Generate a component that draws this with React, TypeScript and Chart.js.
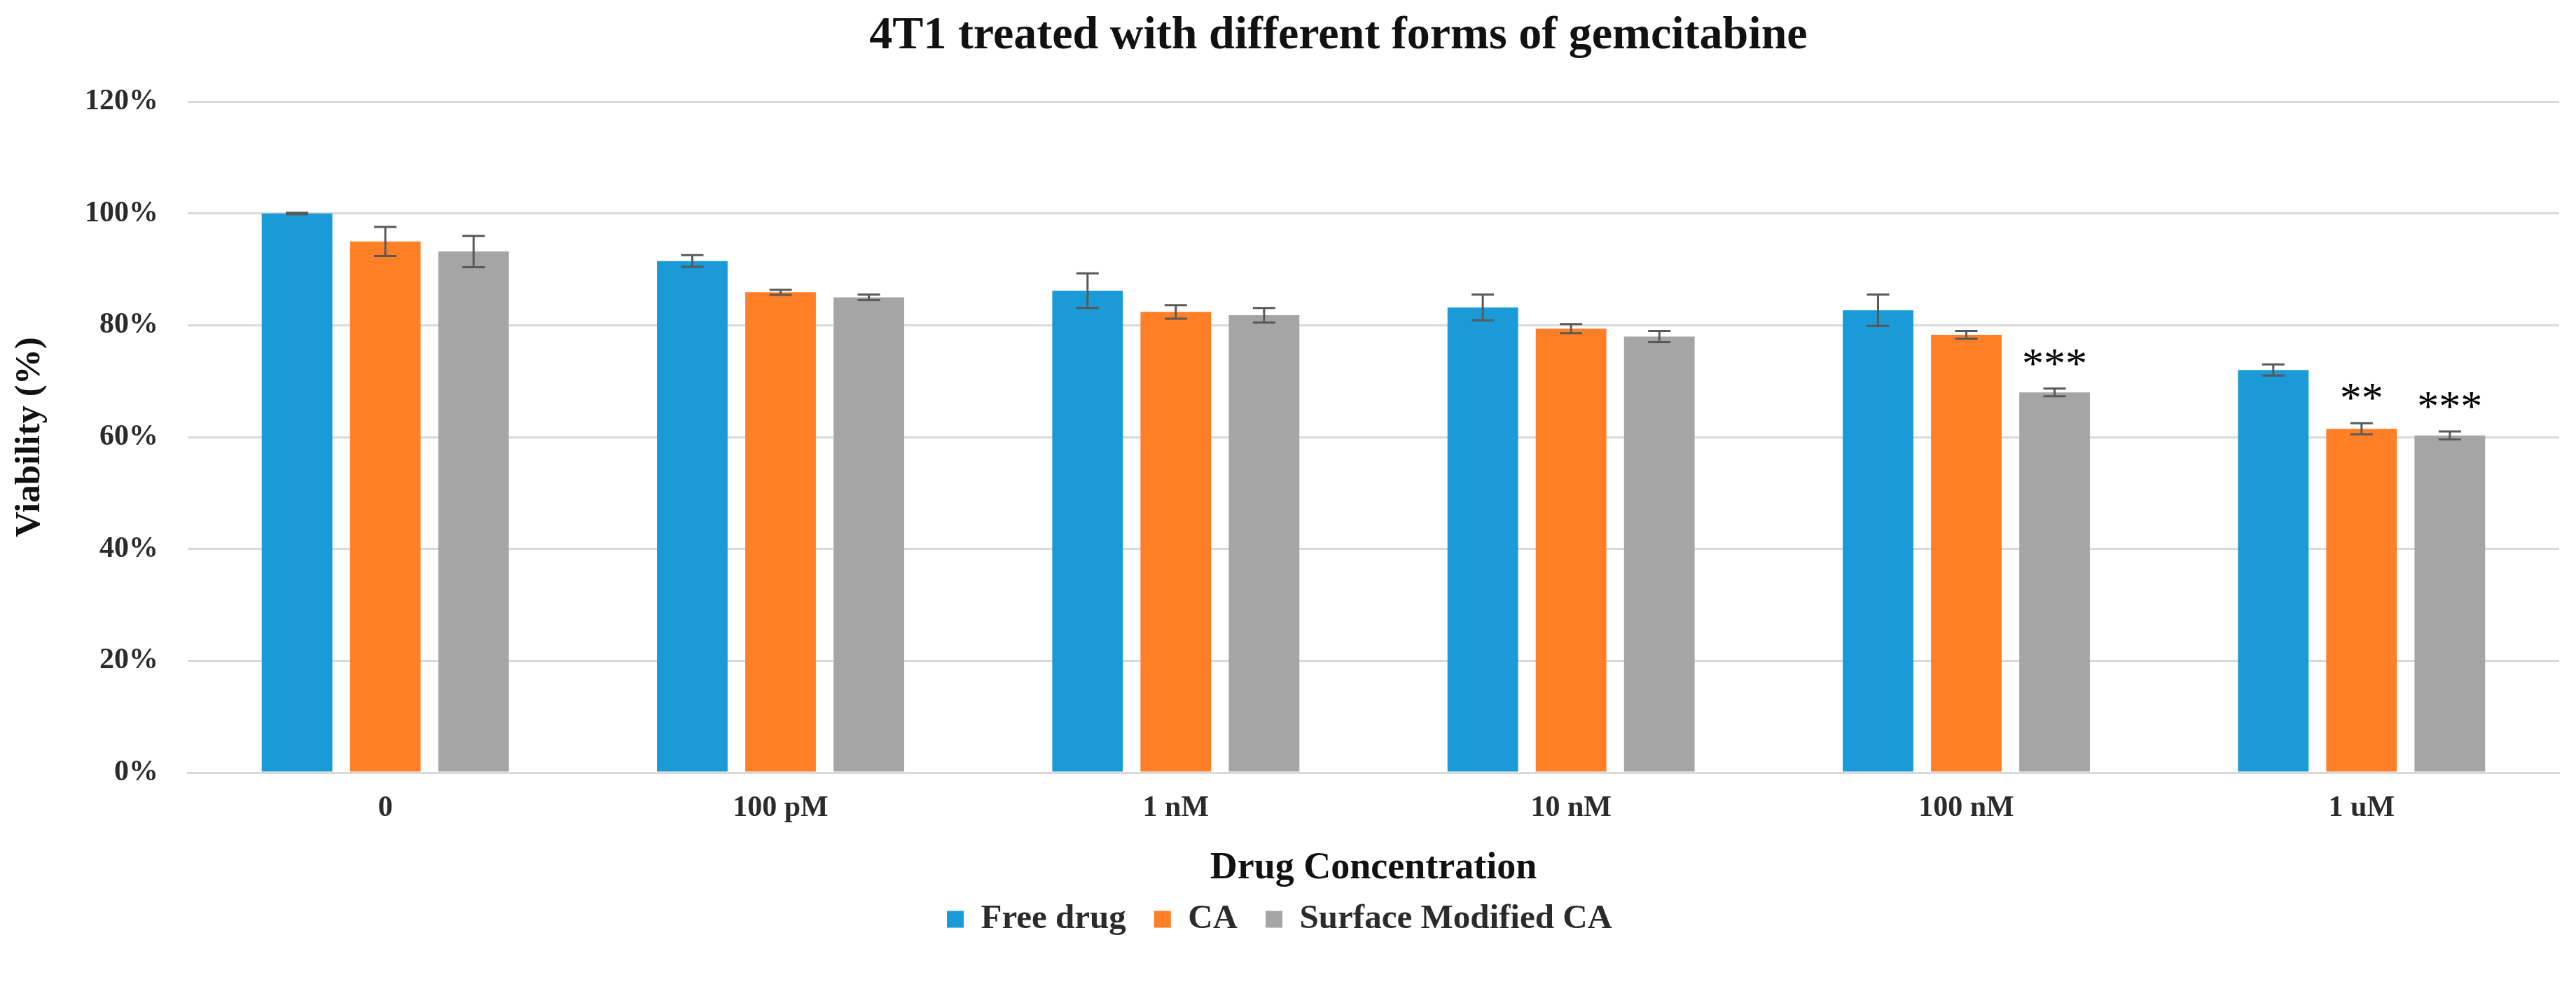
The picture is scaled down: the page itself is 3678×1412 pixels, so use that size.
import React, { useEffect, useRef } from "react";
import { Chart, registerables } from "chart.js";

Chart.register(...registerables);

const categories = ["0", "100 pM", "1 nM", "10 nM", "100 nM", "1 uM"];
const seriesNames = ["Free drug", "CA", "Surface Modified CA"];
const freeDrug = [100, 91.5, 86.2, 83.2, 82.7, 72.0];
const caValues = [95.0, 85.9, 82.4, 79.4, 78.3, 61.5];
const smcaValues = [93.2, 85.0, 81.8, 78.0, 68.0, 60.3];
const freeDrugErr = [0.15, 1.05, 3.1, 2.3, 2.8, 1.0];
const caErr = [2.6, 0.45, 1.2, 0.8, 0.7, 1.0];
const smcaErr = [2.8, 0.5, 1.3, 1.0, 0.7, 0.7];
const freeDrugSig = ["", "", "", "", "", ""];
const caSig = ["", "", "", "", "", "**"];
const smcaSig = ["", "", "", "", "***", "***"];
const yTicks = [0, 20, 40, 60, 80, 100, 120];

const FONT = "'Liberation Serif', 'Times New Roman', serif";
const TEXT = "#2b2b2b";

const errorBarPlugin = {
  id: "errorBars",
  afterLayout(chart: any) {
    const t = chart.titleBlock;
    if (t) {
      t.left += 84;
      t.right += 84;
    }
  },
  afterDatasetsDraw(chart: any) {
    const ctx = chart.ctx;
    const y = chart.scales.y;
    chart.data.datasets.forEach((ds: any, di: number) => {
      const meta = chart.getDatasetMeta(di);
      meta.data.forEach((bar: any, i: number) => {
        const v = ds.data[i];
        const e = ds.errors[i];
        const yTop = y.getPixelForValue(v + e);
        const yBot = y.getPixelForValue(v - e);
        const x = bar.x;
        const cap = 16;
        ctx.save();
        ctx.strokeStyle = "#595959";
        ctx.lineWidth = 3;
        ctx.beginPath();
        ctx.moveTo(x, yTop);
        ctx.lineTo(x, yBot);
        ctx.moveTo(x - cap, yTop);
        ctx.lineTo(x + cap, yTop);
        ctx.moveTo(x - cap, yBot);
        ctx.lineTo(x + cap, yBot);
        ctx.stroke();
        const s = ds.sig[i];
        if (s) {
          ctx.fillStyle = "#000000";
          ctx.font = `62px ${FONT}`;
          ctx.textAlign = "center";
          ctx.textBaseline = "alphabetic";
          ctx.fillText(s, x, yTop - 16);
        }
        ctx.restore();
      });
    });
  },
};

export default function App() {
  const ref = useRef<HTMLCanvasElement | null>(null);
  useEffect(() => {
    document.body.style.margin = "0";
    const canvas = ref.current!;
    const chart = new Chart(canvas, {
      type: "bar",
      data: {
        labels: categories,
        datasets: [
          { label: seriesNames[0], data: freeDrug, errors: freeDrugErr, sig: freeDrugSig, backgroundColor: "#1A9BD7" } as any,
          { label: seriesNames[1], data: caValues, errors: caErr, sig: caSig, backgroundColor: "#FF7F27" } as any,
          { label: seriesNames[2], data: smcaValues, errors: smcaErr, sig: smcaSig, backgroundColor: "#A5A5A5" } as any,
        ],
      },
      options: {
        animation: false,
        responsive: false,
        devicePixelRatio: 1,
        layout: { padding: { left: 0, right: 24, top: 0, bottom: 65 } },
        datasets: { bar: { categoryPercentage: 0.67, barPercentage: 0.8 } },
        plugins: {
          title: {
            display: true,
            text: "4T1 treated with different forms of gemcitabine",
            color: "#111111",
            font: { family: FONT, size: 66, weight: "bold" },
            padding: { top: 12, bottom: 54 },
          },
          legend: {
            display: true,
            position: "bottom",
            labels: {
              color: TEXT,
              font: { family: FONT, size: 49, weight: "bold" },
              boxWidth: 24,
              boxHeight: 24,
              padding: 40,
            },
          },
          tooltip: { enabled: false },
        },
        scales: {
          x: {
            grid: { display: false, drawTicks: false },
            border: { display: true, color: "#D9D9D9", width: 3 },
            ticks: { color: TEXT, font: { family: FONT, size: 42, weight: "bold" }, padding: 26 },
            title: {
              display: true,
              text: "Drug Concentration",
              color: "#111111",
              font: { family: FONT, size: 54, weight: "bold" },
              padding: { top: 0, bottom: -24 },
            },
            afterFit(scale: any) {
              scale.height = 145;
            },
          },
          y: {
            min: 0,
            max: 120,
            afterBuildTicks(scale: any) {
              scale.ticks = yTicks.map((v) => ({ value: v }));
            },
            grid: { color: "#D9D9D9", lineWidth: 3, drawTicks: false },
            border: { display: false },
            ticks: {
              color: TEXT,
              font: { family: FONT, size: 42, weight: "bold" },
              padding: 42,
              callback: (v: any) => `${v}%`,
            },
            title: {
              display: true,
              text: "Viability (%)",
              color: "#111111",
              font: { family: FONT, size: 51, weight: "bold" },
              padding: { top: 12, bottom: 0 },
            },
            afterFit(scale: any) {
              scale.width = 268;
            },
          },
        },
      } as any,
      plugins: [errorBarPlugin],
    });
    return () => chart.destroy();
  }, []);
  return (
    <div style={{ width: 3678, height: 1412, background: "#ffffff" }}>
      <canvas ref={ref} width={3678} height={1412} style={{ display: "block" }} />
    </div>
  );
}
